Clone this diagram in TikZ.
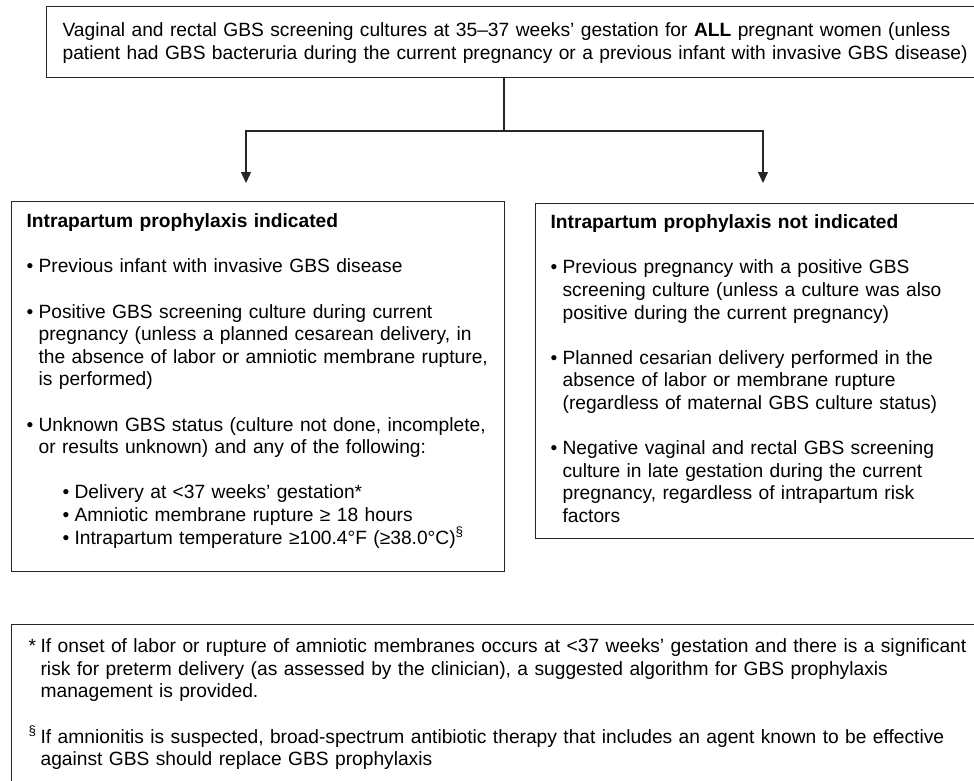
\documentclass[tikz,border=0pt]{standalone}
\usepackage{fontspec}
\setmainfont{Liberation Sans}
\usetikzlibrary{arrows.meta}
\setlength{\parindent}{0pt}
\newcommand{\blt}{\makebox[12pt][l]{•}}
\newcommand{\bitem}[1]{\hangindent=12pt\hangafter=1\blt#1\par}
\newcommand{\sitem}[1]{\hspace*{36pt}\blt#1\par}
\newcommand{\fitem}[2]{\hangindent=12pt\hangafter=1\makebox[12pt][l]{#1}#2\par}
\newcommand{\gap}{\vspace{\baselineskip}}
\begin{document}
\begin{tikzpicture}[x=1pt, y=-1pt,
  box/.style={draw=black!85, line width=1.2pt, align=left, anchor=north west,
    inner ysep=0pt, font=\fontsize{19.2}{22.6}\selectfont},
  link/.style={draw=black!85, line width=1.2pt},
  arr/.style={link, -{Triangle[width=10pt,length=11pt]}}]
 \useasboundingbox (0,0) rectangle (974,781);
 \clip (0,0) rectangle (974,781);
 \node[box, inner xsep=16pt, text width=932pt, text height=30pt, text depth=41pt]
   (screen) at (46,6)
   {Vaginal and rectal GBS screening cultures at 35–37 weeks’ gestation for \textbf{ALL} pregnant women (unless\newline
    patient had GBS bacteruria during the current pregnancy or a previous infant with invasive GBS disease)};
 \node[box, inner xsep=15pt, text width=463pt, text height=26pt, text depth=344pt]
   (ind) at (11,201)
   {\textbf{Intrapartum prophylaxis indicated}\par\gap
    \bitem{Previous infant with invasive GBS disease}\gap
    \bitem{Positive GBS screening culture during current\newline
      pregnancy (unless a planned cesarean delivery, in\newline
      the absence of labor or amniotic membrane rupture,\newline
      is performed)}\gap
    \bitem{Unknown GBS status (culture not done, incomplete,\newline
      or results unknown) and any of the following:}\gap
    \sitem{Delivery at <37 weeks’ gestation*}
    \sitem{Amniotic membrane rupture ≥ 18 hours}
    \sitem{Intrapartum temperature ≥100.4°F (≥38.0°C)\textsuperscript{§}}};
 \node[box, inner xsep=15pt, text width=435pt, text height=25pt, text depth=310pt]
   (notind) at (535,203)
   {\textbf{Intrapartum prophylaxis not indicated}\par\gap
    \bitem{Previous pregnancy with a positive GBS\newline
      screening culture (unless a culture was also\newline
      positive during the current pregnancy)}\gap
    \bitem{Planned cesarian delivery performed in the\newline
      absence of labor or membrane rupture\newline
      (regardless of maternal GBS culture status)}\gap
    \bitem{Negative vaginal and rectal GBS screening\newline
      culture in late gestation during the current\newline
      pregnancy, regardless of intrapartum risk\newline
      factors}};
 \node[box, inner xsep=17pt, text width=965pt, text height=28pt, text depth=168pt]
   (notes) at (11,624)
   {\fitem{*}{If onset of labor or rupture of amniotic membranes occurs at <37 weeks’ gestation and there is a significant\newline
      risk for preterm delivery (as assessed by the clinician), a suggested algorithm for GBS prophylaxis\newline
      management is provided.}\gap
    \fitem{\textsuperscript{§}}{If amnionitis is suspected, broad-spectrum antibiotic therapy that includes an agent known to be effective\newline
      against GBS should replace GBS prophylaxis}};
 \coordinate (fork) at (504,131);
 \coordinate (tipind) at (246,183);
 \coordinate (tipnotind) at (763,183);
 \draw[link] (screen.south -| fork) -- (fork);
 \draw[arr] (fork) -| (tipind);
 \draw[arr] (fork) -| (tipnotind);
\end{tikzpicture}
\end{document}
